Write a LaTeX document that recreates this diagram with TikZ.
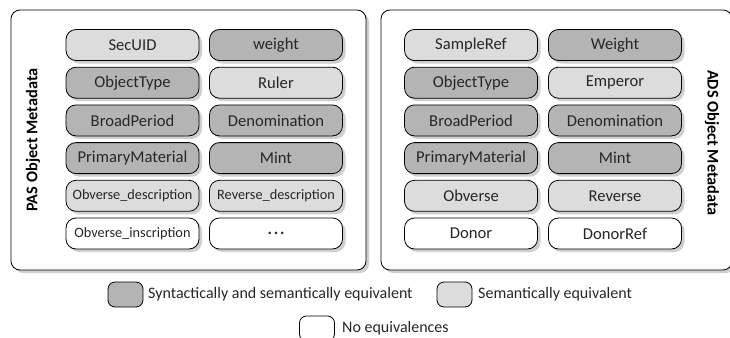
\documentclass[tikz,border=0pt]{standalone}
\usepackage{fontspec}
\setmainfont{Carlito}
\usetikzlibrary{shadows}

\definecolor{synsem}{HTML}{B4B4B4}
\definecolor{sem}{HTML}{DCDCDC}
\definecolor{shade}{HTML}{CFCFCF}

\tikzset{
  softshadow/.style={drop shadow={shadow xshift=3pt, shadow yshift=-3pt, fill=shade, opacity=1}},
  panel/.style={draw, line width=0.8pt, fill=white, rounded corners=9pt, softshadow},
  field/.style={draw, line width=0.8pt, rounded corners=10pt, softshadow,
    minimum width=133pt, minimum height=31pt, inner sep=0pt,
    font=\fontsize{16.6}{19}\selectfont, text=black!85},
  small/.style={font=\fontsize{14.3}{17}\selectfont},
  full/.style={field, fill=synsem},
  part/.style={field, fill=sem},
  none/.style={field, fill=white},
  keybox/.style={draw, line width=0.8pt, rounded corners=7pt,
    minimum width=35pt, minimum height=25pt, inner sep=0pt},
  keytext/.style={anchor=west, inner sep=0pt, text=black!85,
    font=\fontsize{16}{19}\selectfont},
  paneltitle/.style={inner sep=0pt, font=\fontsize{16.3}{19}\selectfont\bfseries}
}

\begin{document}
\begin{tikzpicture}[x=1pt, y=-1pt]
\useasboundingbox (0,0) rectangle (730,337);

% the two metadata panels
\node[panel, minimum width=355pt, minimum height=260pt] (pas) at (188.5,140) {};
\node[panel, minimum width=351pt, minimum height=260pt] (ads) at (556.5,140) {};

\node[paneltitle, rotate=90]  (pastitle) at (33,140) {PAS Object Metadata};
\node[paneltitle, rotate=-90] (adstitle) at (712,143) {ADS Object Metadata};

% PAS fields
\node[part] (p11) at (132.5,45)    {SecUID};
\node[full] (p12) at (276,45)      {weight};
\node[full] (p21) at (132.5,82.7)  {ObjectType};
\node[part] (p22) at (276,82.7)    {Ruler};
\node[full] (p31) at (132.5,120.4) {BroadPeriod};
\node[full] (p32) at (276,120.4)   {Denomination};
\node[full] (p41) at (132.5,158.1) {PrimaryMaterial};
\node[full] (p42) at (276,158.1)   {Mint};
\node[part, small] (p51) at (132.5,195.8) {Obverse\_description};
\node[part, small] (p52) at (276,195.8)   {Reverse\_description};
\node[none, small] (p61) at (132.5,233.5) {Obverse\_inscription};
\node[none] (p62) at (276,233.5)
  {\raisebox{-2.5pt}{\bfseries .\kern1.8pt.\kern1.8pt.}};

% ADS fields
\node[part] (a11) at (471,45)    {SampleRef};
\node[full] (a12) at (615,45)    {Weight};
\node[full] (a21) at (471,82.7)  {ObjectType};
\node[part] (a22) at (615,82.7)  {Emperor};
\node[full] (a31) at (471,120.4) {BroadPeriod};
\node[full] (a32) at (615,120.4) {Denomination};
\node[full] (a41) at (471,158.1) {PrimaryMaterial};
\node[full] (a42) at (615,158.1) {Mint};
\node[part] (a51) at (471,195.8) {Obverse};
\node[part] (a52) at (615,195.8) {Reverse};
\node[none] (a61) at (471,233.5) {Donor};
\node[none] (a62) at (615,233.5) {DonorRef};

% key
\node[keybox, fill=synsem] (k1) at (125.5,294.5) {};
\node[keytext] (k1t) at (148,294.5) {Syntactically and semantically equivalent};
\node[keybox, fill=sem] (k2) at (454.5,294.5) {};
\node[keytext] (k2t) at (478,294.5) {Semantically equivalent};
\node[keybox, fill=white] (k3) at (317,328.5) {};
\node[keytext] (k3t) at (342,328.5) {No equivalences};
\end{tikzpicture}
\end{document}
